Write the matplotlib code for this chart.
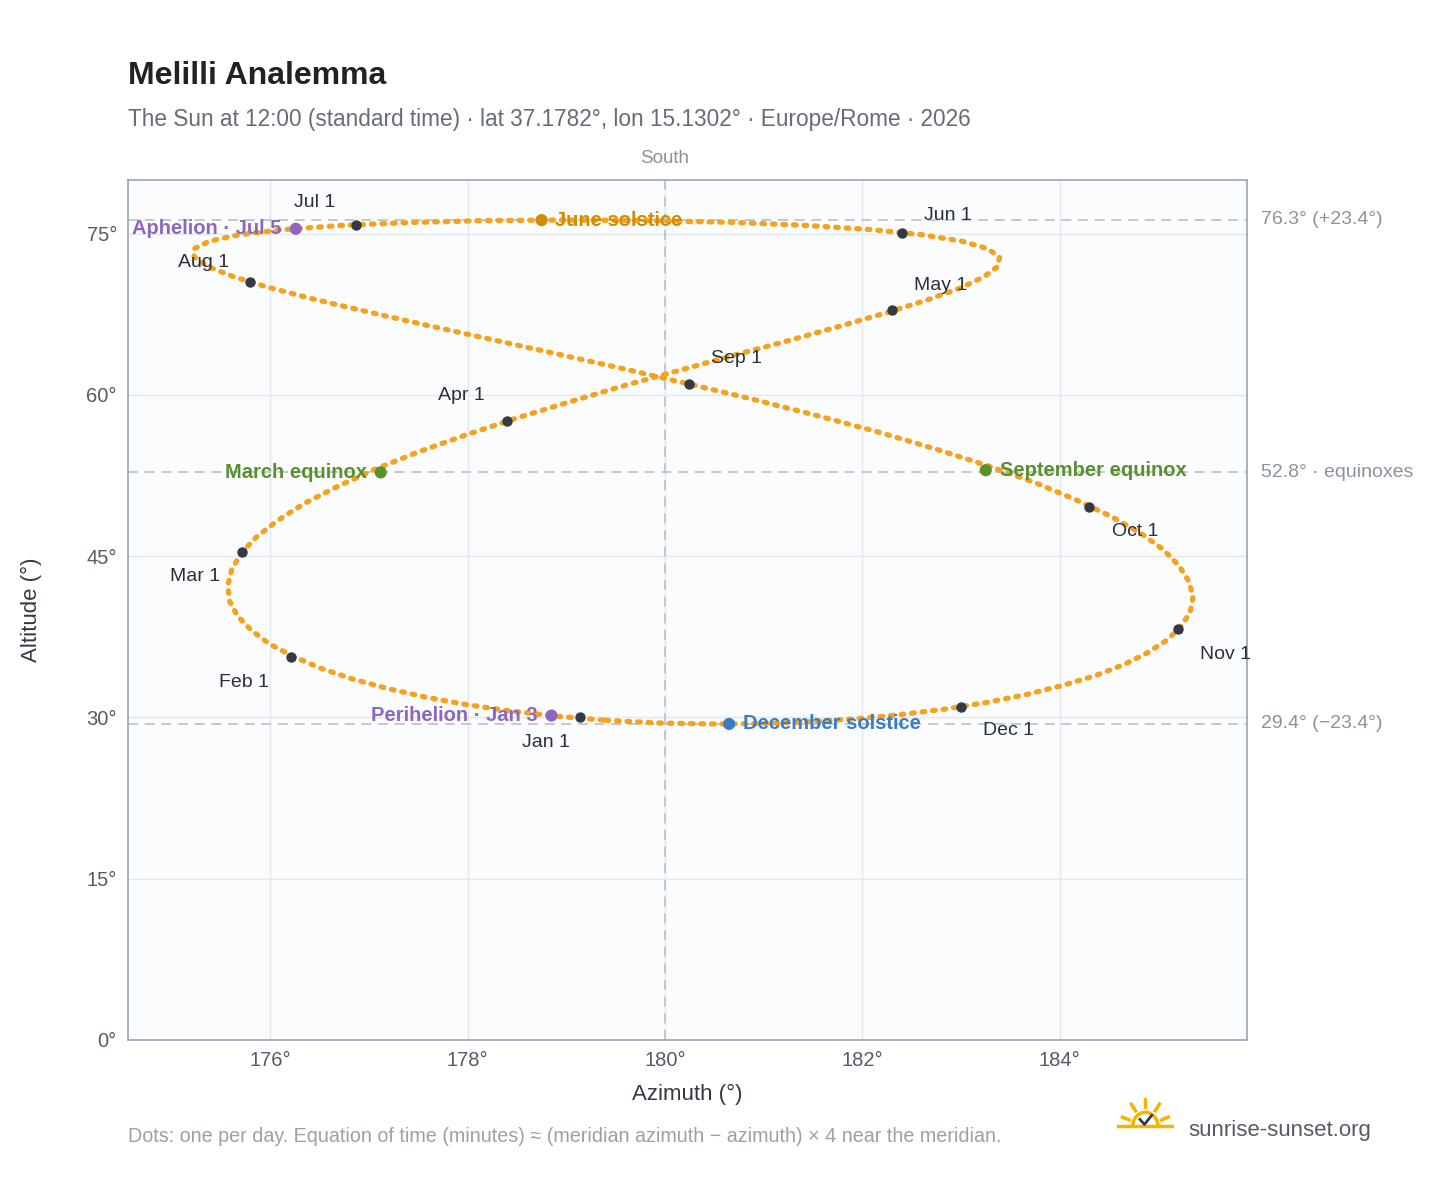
import numpy as np
import matplotlib.pyplot as plt
from matplotlib.patches import Arc

plt.rcParams['font.family'] = ['Liberation Sans', 'DejaVu Sans']

# sun position at 12:00 standard time, every 4th day of 2026 (day of year 1, 5, ..., 365)
azimuth = [179.37, 178.90, 178.44, 178.00, 177.58, 177.19, 176.83, 176.51, 176.23, 175.99, 175.81, 175.67,
           175.59, 175.57, 175.61, 175.70, 175.86, 176.08, 176.35, 176.69, 177.07, 177.50, 177.98,
           178.49, 179.03, 179.58, 180.15, 180.71, 181.26, 181.77, 182.24, 182.65, 182.99, 183.23, 183.37,
           183.39, 183.27, 183.01, 182.61, 182.08, 181.42, 180.67, 179.85, 179.01, 178.17, 177.39,
           176.70, 176.12, 175.67, 175.38, 175.23, 175.23, 175.37, 175.63, 176.00, 176.46, 177.00, 177.59,
           178.23, 178.89, 179.57, 180.24, 180.91, 181.55, 182.17, 182.74, 183.27, 183.75, 184.16,
           184.52, 184.82, 185.05, 185.21, 185.31, 185.35, 185.32, 185.23, 185.09, 184.89, 184.65, 184.36,
           184.02, 183.66, 183.26, 182.83, 182.38, 181.92, 181.44, 180.95, 180.46, 179.97, 179.49]
altitude = [29.76, 30.12, 30.59, 31.18, 31.88, 32.69, 33.59, 34.59, 35.69, 36.86, 38.11, 39.43,
            40.81, 42.24, 43.72, 45.23, 46.78, 48.35, 49.93, 51.52, 53.11, 54.70, 56.27,
            57.83, 59.35, 60.85, 62.30, 63.72, 65.08, 66.39, 67.64, 68.82, 69.94, 70.98, 71.94,
            72.82, 73.61, 74.30, 74.90, 75.39, 75.78, 76.06, 76.22, 76.28, 76.22, 76.04,
            75.76, 75.37, 74.88, 74.29, 73.60, 72.82, 71.95, 71.00, 69.97, 68.87, 67.71, 66.48,
            65.19, 63.85, 62.46, 61.03, 59.56, 58.06, 56.53, 54.98, 53.42, 51.84, 50.27,
            48.70, 47.14, 45.60, 44.10, 42.62, 41.19, 39.80, 38.48, 37.22, 36.03, 34.92, 33.89,
            32.96, 32.13, 31.40, 30.77, 30.26, 29.87, 29.59, 29.43, 29.40, 29.48, 29.69]

month_labels = ["Jan 1", "Feb 1", "Mar 1", "Apr 1", "May 1", "Jun 1",
                "Jul 1", "Aug 1", "Sep 1", "Oct 1", "Nov 1", "Dec 1"]
month_az = [179.14, 176.21, 175.72, 178.40, 182.30, 182.40, 176.87, 175.80, 180.24, 184.30, 185.20, 183.00]
month_alt = [30.00, 35.60, 45.40, 57.60, 67.90, 75.10, 75.85, 70.50, 61.03, 49.60, 38.20, 30.95]
month_off = [(-42, -18), (-52, -18), (-52, -18), (-50, 18), (16, 18), (16, 12),
             (-45, 16), (-52, 14), (16, 18), (16, -18), (16, -18), (16, -17)]

events = ["June solstice", "December solstice", "March equinox", "September equinox",
          "Aphelion · Jul 5", "Perihelion · Jan 3"]
event_az = [178.75, 180.65, 177.12, 183.25, 176.26, 178.85]
event_alt = [76.27, 29.4, 52.8, 53.0, 75.46, 30.18]
event_col = ["#d18c00", "#3a7dc7", "#5a8f2d", "#5a8f2d", "#8e66bd", "#8e66bd"]
event_left = [False, False, True, False, True, True]

ref_alt = [76.3, 52.8, 29.4]
ref_labels = ["76.3° (+23.4°)", "52.8° · equinoxes", "29.4° (−23.4°)"]

fig = plt.figure(figsize=(14.48, 11.88), dpi=100)
ax = fig.add_axes([0.0884, 0.1246, 0.773, 0.7239])
ax.set_facecolor("#fafcfe")
ax.set_xlim(174.56, 185.9)
ax.set_ylim(0, 80)
ax.set_xticks([176, 178, 180, 182, 184])
ax.set_xticklabels([f"{v}°" for v in [176, 178, 180, 182, 184]])
ax.set_yticks([0, 15, 30, 45, 60, 75])
ax.set_yticklabels([f"{v}°" for v in [0, 15, 30, 45, 60, 75]])
ax.grid(color="#e3e8ee", lw=1)
ax.set_axisbelow(True)
for s in ax.spines.values():
    s.set_color("#9aa5b1"); s.set_linewidth(1.2)
ax.tick_params(colors="#555c66", labelsize=14.5, length=0, pad=8)
ax.set_xlabel("Azimuth (°)", fontsize=16, color="#333a44", labelpad=10)
ax.set_ylabel("Altitude (°)", fontsize=16, color="#333a44", labelpad=32)

ax.axvline(180, color="#b8c0c8", ls=(0, (6, 4)), lw=1.2)
ax.text(180, 81.2, "South", ha="center", va="bottom", fontsize=13.5, color="#8a939d")
for a, lab in zip(ref_alt, ref_labels):
    ax.axhline(a, color="#b8c0c8", ls=(0, (6, 4)), lw=1.2)
    ax.annotate(lab, (1, a), xycoords=("axes fraction", "data"), xytext=(10, 0),
                textcoords="offset points", va="center", fontsize=14, color="#8a939d")

az = azimuth + azimuth[:1]
alt = altitude + altitude[:1]
ax.plot(az, alt, color="#f5a31e", lw=3.8, ls=(0, (0.5, 1.5)), dash_capstyle="round", zorder=3)

ax.scatter(month_az, month_alt, s=42, color="#333a44", zorder=5)
for lab, x, y, off in zip(month_labels, month_az, month_alt, month_off):
    ax.annotate(lab, (x, y), xytext=off, textcoords="offset points", ha="left", va="center",
                fontsize=14, color="#2b3038", zorder=6)

ax.scatter(event_az, event_alt, s=60, color=event_col, zorder=5)
for lab, x, y, c, left in zip(events, event_az, event_alt, event_col, event_left):
    ax.annotate(lab, (x, y), xytext=(-10 if left else 10, 0), textcoords="offset points",
                ha="right" if left else "left", va="center", fontsize=14.5,
                fontweight="bold", color=c, zorder=6)

fig.text(0.0884, 0.929, "Melilli Analemma", fontsize=23, fontweight="bold", color="#222222")
fig.text(0.0884, 0.894, "The Sun at 12:00 (standard time) · lat 37.1782°, lon 15.1302° · Europe/Rome · 2026",
         fontsize=16.3, color="#666d76")
fig.text(0.0884, 0.039, "Dots: one per day. Equation of time (minutes) ≈ (meridian azimuth − azimuth) × 4 near the meridian.",
         fontsize=14.2, color="#9aa1a9")

# small sun logo
lg = fig.add_axes([0.771, 0.045, 0.04, 0.034])
lg.set_xlim(-1.6, 1.6); lg.set_ylim(-0.4, 1.6); lg.axis("off")
lg.add_patch(Arc((0, 0), 1.4, 1.4, theta1=0, theta2=180, color="#f5b400", lw=2.5))
for t in np.radians([20, 55, 90, 125, 160]):
    lg.plot([0.95*np.cos(t), 1.35*np.cos(t)], [0.95*np.sin(t), 1.35*np.sin(t)], color="#f5b400", lw=2.5)
lg.plot([-1.5, 1.5], [0, 0], color="#f5b400", lw=2.5)
lg.plot([-0.3, -0.05, 0.35], [0.35, 0.1, 0.55], color="#333a44", lw=2)
fig.text(0.821, 0.044, "sunrise-sunset.org", fontsize=16, color="#555c66")

fig.savefig("out.png", dpi=100)
